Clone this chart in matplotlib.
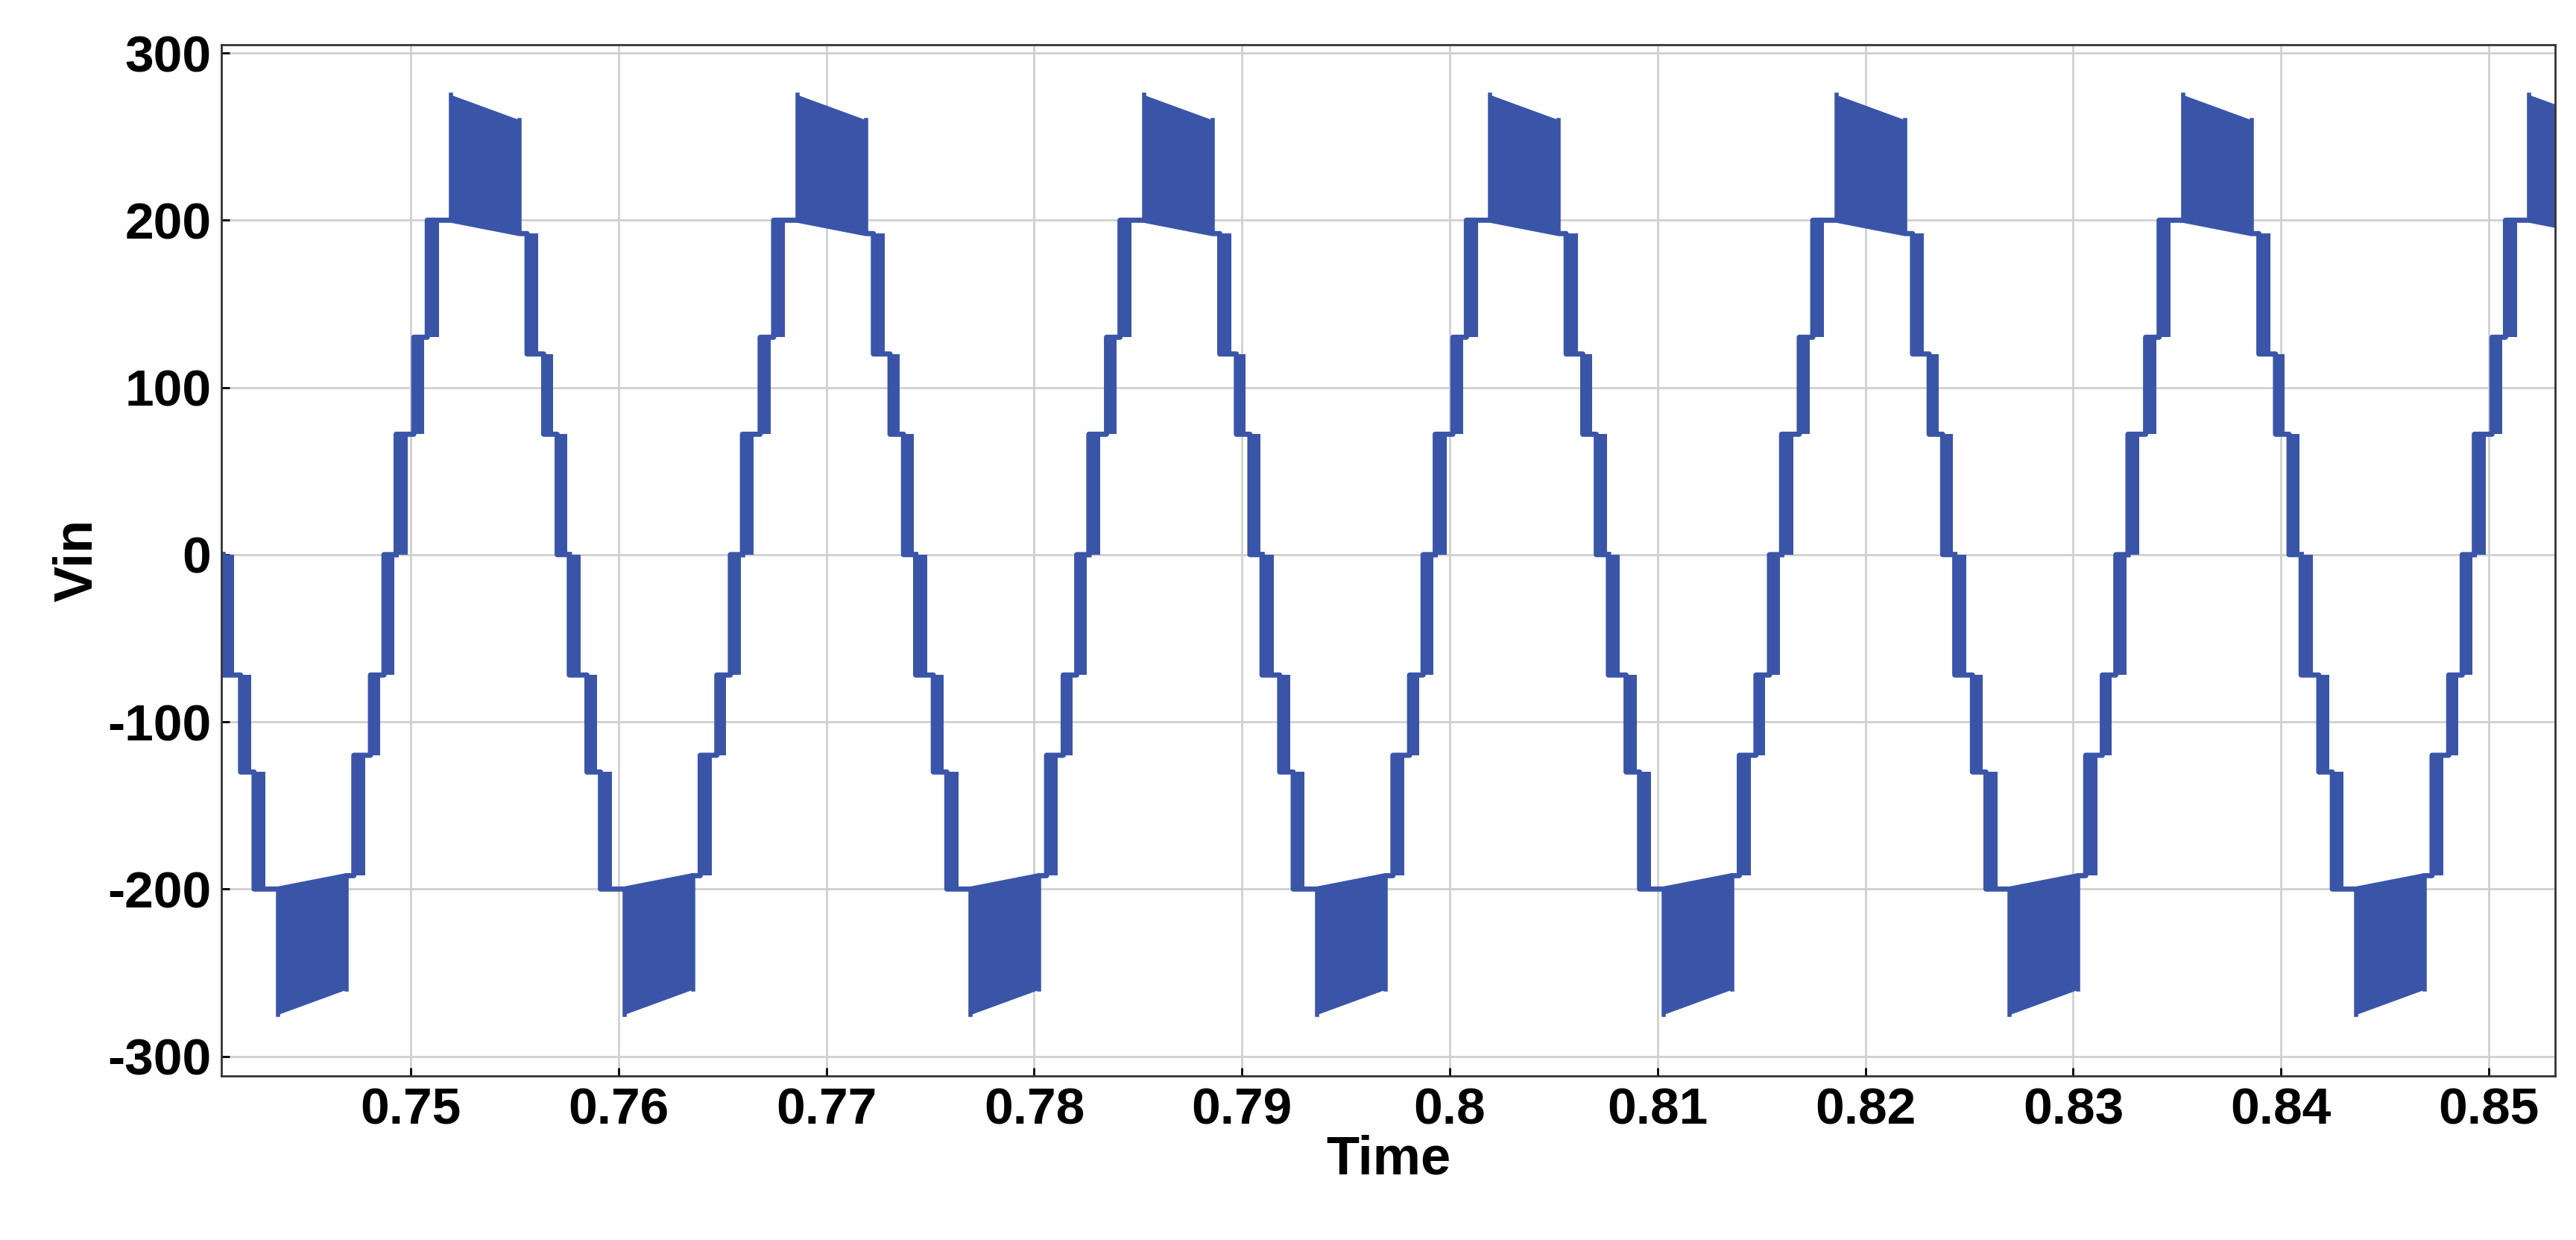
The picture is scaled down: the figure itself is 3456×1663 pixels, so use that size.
import matplotlib
matplotlib.use("Agg")
import matplotlib.pyplot as plt

plt.rcParams['font.family'] = ['Liberation Sans', 'DejaVu Sans']

period = 1/60.0
first_zero = 0.7493 - period          # rising zero crossing of first drawn cycle
n_cycles = 9
# positive half cycle, ms after rising zero crossing
# transition bands: (start_ms, end_ms, from_level, to_level)
pos_trans = [(0.00, 0.55, 0, 72), (0.85, 1.35, 72, 130), (1.50, 2.05, 130, 200),
             (6.30, 6.85, 192, 120), (7.10, 7.55, 120, 72), (7.75, 8.25, 72, 0)]
# PWM peak band
band_ms = (2.65, 5.95)
band_upper = (275, 260)
band_lower = (200, 192)

color = '#3a55a8'
fig = plt.figure(figsize=(34.56, 16.63), dpi=100)
ax = fig.add_axes([0.086, 0.132, 0.906, 0.832])

for k in range(n_cycles):
    for sgn, off in ((1, 0.0), (-1, period/2)):
        t0 = first_zero + k*period + off
        xs, ys = [t0], [0]
        bs, be = band_ms
        pts = pos_trans[:3] + [(bs, bs, 200, 200)] + [(be, be, 192, 192)] + pos_trans[3:]
        for s, e, a, b in pts:
            xs += [t0+s/1000, t0+s/1000, t0+e/1000]; ys += [sgn*a, sgn*b, sgn*b]
        xs.append(t0+period/2); ys.append(0)
        ax.plot(xs, ys, color=color, lw=5)
        for s, e, a, b in pos_trans:
            ax.fill_between([t0+s/1000, t0+e/1000], sgn*a, sgn*b, color=color, lw=0)
        tt = [t0+bs/1000, t0+be/1000]
        ax.fill_between(tt, [sgn*band_lower[0], sgn*band_lower[1]],
                        [sgn*band_upper[0], sgn*band_upper[1]], color=color, lw=0)
        ax.plot([tt[0], tt[0]], [sgn*band_lower[0], sgn*band_upper[0]], color=color, lw=4)
        ax.plot([tt[1], tt[1]], [sgn*band_lower[1], sgn*band_upper[1]], color=color, lw=4)

ax.set_xlim(0.7409, 0.8532)
ax.set_ylim(-312, 305)
ax.set_xticks([0.75, 0.76, 0.77, 0.78, 0.79, 0.80, 0.81, 0.82, 0.83, 0.84, 0.85])
ax.set_xticklabels(['0.75', '0.76', '0.77', '0.78', '0.79', '0.8', '0.81', '0.82', '0.83', '0.84', '0.85'])
ax.set_yticks([-300, -200, -100, 0, 100, 200, 300])
ax.set_yticklabels(['-300', '-200', '-100', '0', '100', '200', '300'])
ax.grid(True, color='#d0d0d0', lw=2)
ax.set_axisbelow(True)
ax.tick_params(labelsize=50, width=2, length=8, direction='in', pad=10)
for l in ax.get_xticklabels() + ax.get_yticklabels():
    l.set_fontweight('bold')
for sp in ax.spines.values():
    sp.set_color('#333333'); sp.set_linewidth(2)
ax.set_xlabel('Time', fontsize=52, fontweight='bold', labelpad=0)
ax.set_ylabel('Vin', fontsize=52, fontweight='bold', labelpad=4)
fig.savefig('out.png', dpi=100)
